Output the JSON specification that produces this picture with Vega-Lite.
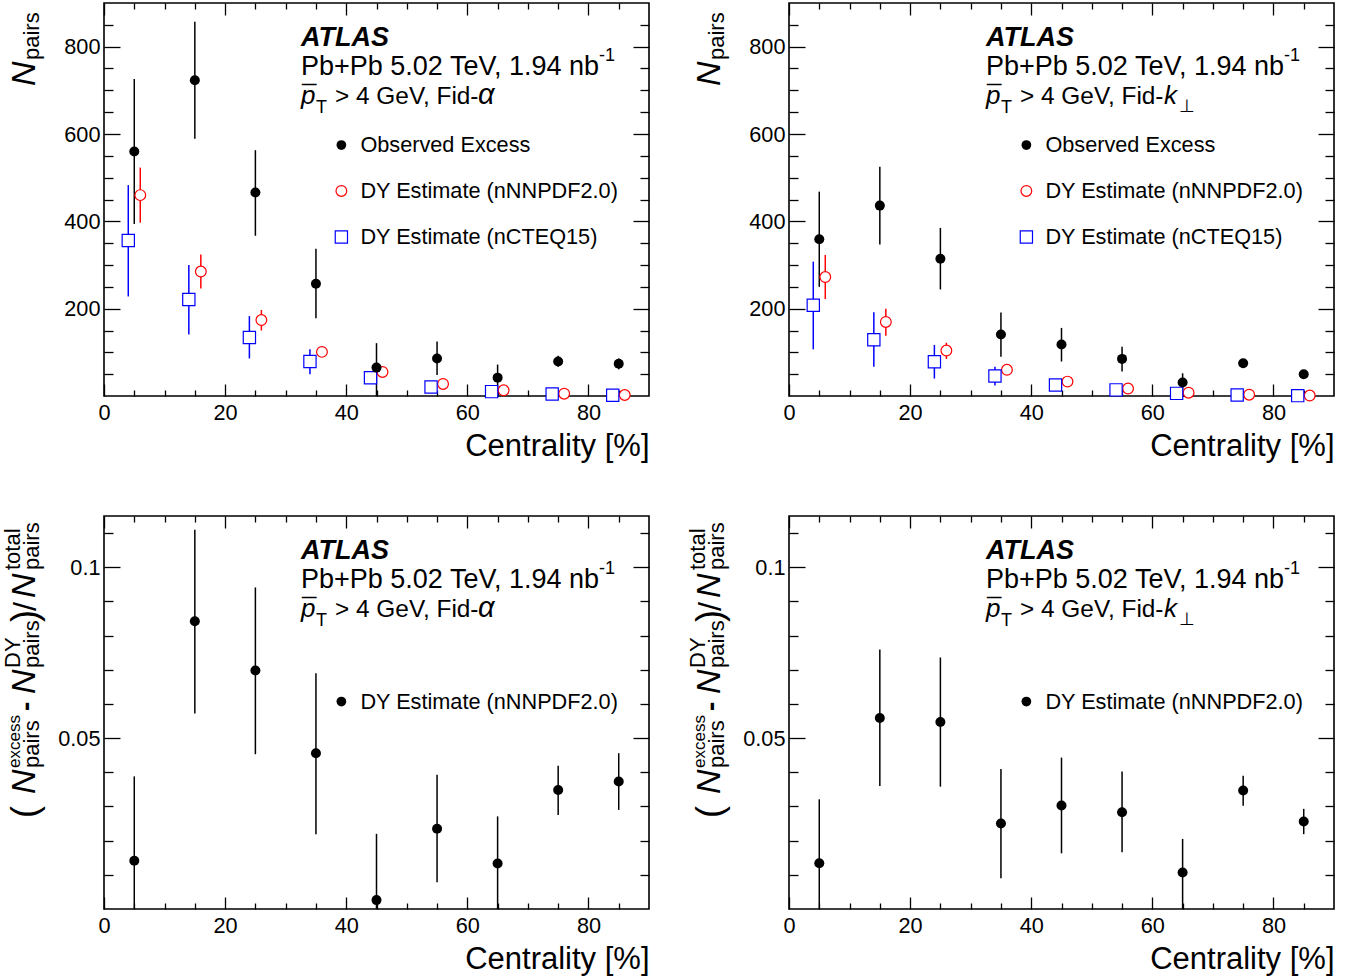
{
"$schema":"https://vega.github.io/schema/vega-lite/v6.json",
"autosize":{"type":"pad"},
"padding":{"left":1,"top":1,"right":0,"bottom":0},
"background":"#ffffff",
"datasets":{
"ta":[
{"c":5,"s":"obs","n":560,"lo":394,"hi":726},{"c":15,"s":"obs","n":723,"lo":589,"hi":857},{"c":25,"s":"obs","n":466,"lo":367,"hi":563},{"c":35,"s":"obs","n":257,"lo":178,"hi":337},{"c":45,"s":"obs","n":65,"lo":0,"hi":121},{"c":55,"s":"obs","n":86,"lo":48,"hi":125},{"c":65,"s":"obs","n":42,"lo":13,"hi":72},{"c":75,"s":"obs","n":79,"lo":67,"hi":92},{"c":85,"s":"obs","n":74,"lo":61,"hi":86},
{"c":5,"s":"nn","n":460,"lo":397,"hi":523},{"c":15,"s":"nn","n":285,"lo":246,"hi":324},{"c":25,"s":"nn","n":174,"lo":150,"hi":197},{"c":35,"s":"nn","n":101,"lo":95,"hi":107},{"c":45,"s":"nn","n":55,"lo":50,"hi":60},{"c":55,"s":"nn","n":27.5,"lo":25,"hi":30},{"c":65,"s":"nn","n":13,"lo":11.5,"hi":14.5},{"c":75,"s":"nn","n":5.3,"lo":4.7,"hi":5.9},{"c":85,"s":"nn","n":2.3,"lo":2,"hi":2.6},
{"c":5,"s":"nc","n":356,"lo":228,"hi":483},{"c":15,"s":"nc","n":221,"lo":141,"hi":300},{"c":25,"s":"nc","n":134,"lo":86,"hi":183},{"c":35,"s":"nc","n":79,"lo":50,"hi":107},{"c":45,"s":"nc","n":42,"lo":32,"hi":52},{"c":55,"s":"nc","n":20.6,"lo":18,"hi":23},{"c":65,"s":"nc","n":10,"lo":9,"hi":11},{"c":75,"s":"nc","n":4.6,"lo":4,"hi":5.2},{"c":85,"s":"nc","n":1.5,"lo":1.3,"hi":1.7}
],
"tk":[
{"c":5,"s":"obs","n":359,"lo":250,"hi":468},{"c":15,"s":"obs","n":436,"lo":347,"hi":525},{"c":25,"s":"obs","n":314.5,"lo":244,"hi":385},{"c":35,"s":"obs","n":141,"lo":90,"hi":191},{"c":45,"s":"obs","n":118,"lo":79,"hi":156},{"c":55,"s":"obs","n":85,"lo":56,"hi":113},{"c":65,"s":"obs","n":31,"lo":14,"hi":52},{"c":75,"s":"obs","n":75,"lo":71,"hi":79},{"c":85,"s":"obs","n":50,"lo":46,"hi":54},
{"c":5,"s":"nn","n":272.5,"lo":222,"hi":323},{"c":15,"s":"nn","n":169.5,"lo":138,"hi":200},{"c":25,"s":"nn","n":104,"lo":85,"hi":122},{"c":35,"s":"nn","n":60,"lo":56,"hi":64},{"c":45,"s":"nn","n":33,"lo":31,"hi":35},{"c":55,"s":"nn","n":17,"lo":16,"hi":18},{"c":65,"s":"nn","n":7.6,"lo":7,"hi":8.2},{"c":75,"s":"nn","n":3,"lo":2.8,"hi":3.2},{"c":85,"s":"nn","n":1,"lo":0.9,"hi":1.1},
{"c":5,"s":"nc","n":207.6,"lo":107,"hi":307.6},{"c":15,"s":"nc","n":129,"lo":67,"hi":191.6},{"c":25,"s":"nc","n":78.6,"lo":40,"hi":117},{"c":35,"s":"nc","n":46,"lo":24,"hi":67},{"c":45,"s":"nc","n":25,"lo":22,"hi":28},{"c":55,"s":"nc","n":14,"lo":13,"hi":15},{"c":65,"s":"nc","n":6,"lo":5.5,"hi":6.5},{"c":75,"s":"nc","n":2.3,"lo":2,"hi":2.6},{"c":85,"s":"nc","n":0.8,"lo":0.7,"hi":0.9}
],
"ba":[
{"c":5,"n":0.0141,"lo":0,"hi":0.0388},{"c":15,"n":0.0842,"lo":0.0572,"hi":0.111},{"c":25,"n":0.0698,"lo":0.0453,"hi":0.0941},{"c":35,"n":0.0456,"lo":0.0219,"hi":0.069},{"c":45,"n":0.0026,"lo":0,"hi":0.022},{"c":55,"n":0.0235,"lo":0.0078,"hi":0.0393},{"c":65,"n":0.0133,"lo":0,"hi":0.0271},{"c":75,"n":0.0348,"lo":0.0275,"hi":0.0419},{"c":85,"n":0.0373,"lo":0.029,"hi":0.0456}
],
"bk":[
{"c":5,"n":0.0134,"lo":0,"hi":0.0321},{"c":15,"n":0.0559,"lo":0.036,"hi":0.0759},{"c":25,"n":0.0547,"lo":0.0358,"hi":0.0736},{"c":35,"n":0.025,"lo":0.009,"hi":0.041},{"c":45,"n":0.0303,"lo":0.0163,"hi":0.0443},{"c":55,"n":0.0283,"lo":0.0166,"hi":0.0402},{"c":65,"n":0.0107,"lo":0,"hi":0.0205},{"c":75,"n":0.0347,"lo":0.0302,"hi":0.039},{"c":85,"n":0.0256,"lo":0.0219,"hi":0.0293}
]
},
"columns":2,
"spacing":{"row":120,"column":140},
"bounds":"flush",
"concat":[
{
"width":545,"height":393,
"data":{"values":[{}]},
"resolve":{"axis":{"x":"independent","y":"independent"}},
"layer":[
{"data":{"name":"ta"},"transform":[{"filter":"datum.s == 'obs'"}],"mark":{"type":"rule","color":"#000","strokeWidth":1.5},"encoding":{"x":{"field":"c","type":"quantitative","scale":{"domain":[0,90],"nice":false,"zero":false},"axis":{"orient":"bottom","values":[0,20,40,60,80],"format":"d","ticks":false,"labelPadding":6,"title":"Centrality [%]","titleFontSize":31,"titleAnchor":"end","titlePadding":8}},"y":{"field":"lo","type":"quantitative","scale":{"domain":[0,900],"nice":false,"zero":false},"axis":{"orient":"left","values":[200,400,600,800],"format":"d","ticks":false,"labelPadding":4,"title":null}},"y2":{"field":"hi"}}},
{"data":{"name":"ta"},"transform":[{"filter":"datum.s == 'nn'"}],"mark":{"type":"rule","color":"#ff0000","strokeWidth":1.5,"xOffset":6},"encoding":{"x":{"field":"c","type":"quantitative","scale":{"domain":[0,90],"nice":false,"zero":false},"axis":{"orient":"bottom","values":[0,20,40,60,80],"labels":false,"title":null,"tickSize":-12}},"y":{"field":"lo","type":"quantitative","scale":{"domain":[0,900],"nice":false,"zero":false},"axis":{"orient":"left","values":[200,400,600,800],"labels":false,"title":null,"tickSize":-16}},"y2":{"field":"hi"}}},
{"data":{"name":"ta"},"transform":[{"filter":"datum.s == 'nc'"}],"mark":{"type":"rule","color":"#0000ff","strokeWidth":1.5,"xOffset":-6},"encoding":{"x":{"field":"c","type":"quantitative","scale":{"domain":[0,90],"nice":false,"zero":false},"axis":{"orient":"bottom","values":[5,10,15,25,30,35,45,50,55,65,70,75,85],"labels":false,"title":null,"tickSize":-6}},"y":{"field":"lo","type":"quantitative","scale":{"domain":[0,900],"nice":false,"zero":false},"axis":{"orient":"left","values":[50,100,150,250,300,350,450,500,550,650,700,750,850],"labels":false,"title":null,"tickSize":-9}},"y2":{"field":"hi"}}},
{"data":{"name":"ta"},"transform":[{"filter":"datum.s == 'nn'"}],"mark":{"type":"point","shape":"circle","filled":false,"fill":"#ffffff","fillOpacity":1,"stroke":"#ff0000","strokeWidth":1.2,"size":115,"opacity":1,"xOffset":6},"encoding":{"x":{"field":"c","type":"quantitative","scale":{"domain":[0,90],"nice":false,"zero":false},"axis":{"orient":"top","values":[0,20,40,60,80],"labels":false,"title":null,"tickSize":-12}},"y":{"field":"n","type":"quantitative","scale":{"domain":[0,900],"nice":false,"zero":false},"axis":{"orient":"right","values":[200,400,600,800],"labels":false,"title":null,"tickSize":-16}}}},
{"data":{"name":"ta"},"transform":[{"filter":"datum.s == 'nc'"}],"mark":{"type":"point","shape":"square","filled":false,"fill":"#ffffff","fillOpacity":1,"stroke":"#0000ff","strokeWidth":1.2,"size":150,"opacity":1,"xOffset":-6},"encoding":{"x":{"field":"c","type":"quantitative","scale":{"domain":[0,90],"nice":false,"zero":false},"axis":{"orient":"top","values":[5,10,15,25,30,35,45,50,55,65,70,75,85],"labels":false,"title":null,"tickSize":-6}},"y":{"field":"n","type":"quantitative","scale":{"domain":[0,900],"nice":false,"zero":false},"axis":{"orient":"right","values":[50,100,150,250,300,350,450,500,550,650,700,750,850],"labels":false,"title":null,"tickSize":-9}}}},
{"data":{"name":"ta"},"transform":[{"filter":"datum.s == 'obs'"}],"mark":{"type":"point","shape":"circle","filled":true,"color":"#000","size":100,"opacity":1},"encoding":{"x":{"field":"c","type":"quantitative","scale":{"domain":[0,90],"nice":false,"zero":false},"axis":null},"y":{"field":"n","type":"quantitative","scale":{"domain":[0,900],"nice":false,"zero":false},"axis":null}}},
{"mark":{"type":"point","shape":"circle","filled":true,"color":"#000","size":95,"opacity":1},"encoding":{"x":{"datum":39.2,"type":"quantitative","axis":null},"y":{"datum":574.8,"type":"quantitative","axis":null}}},
{"mark":{"type":"point","shape":"circle","filled":false,"fill":"#ffffff","fillOpacity":1,"stroke":"#ff0000","strokeWidth":1.2,"size":115,"opacity":1},"encoding":{"x":{"datum":39.2,"type":"quantitative","axis":null},"y":{"datum":469.5,"type":"quantitative","axis":null}}},
{"mark":{"type":"point","shape":"square","filled":false,"fill":"#ffffff","fillOpacity":1,"stroke":"#0000ff","strokeWidth":1.2,"size":150,"opacity":1},"encoding":{"x":{"datum":39.2,"type":"quantitative","axis":null},"y":{"datum":364.1,"type":"quantitative","axis":null}}},
{"mark":{"type":"text","text":"Observed Excess","fontSize":21.7,"align":"left","baseline":"middle","dx":19},"encoding":{"x":{"datum":39.2,"type":"quantitative","axis":null},"y":{"datum":574.8,"type":"quantitative","axis":null}}},
{"mark":{"type":"text","text":"DY Estimate (nNNPDF2.0)","fontSize":21.7,"align":"left","baseline":"middle","dx":19},"encoding":{"x":{"datum":39.2,"type":"quantitative","axis":null},"y":{"datum":469.5,"type":"quantitative","axis":null}}},
{"mark":{"type":"text","text":"DY Estimate (nCTEQ15)","fontSize":21.7,"align":"left","baseline":"middle","dx":19},"encoding":{"x":{"datum":39.2,"type":"quantitative","axis":null},"y":{"datum":364.1,"type":"quantitative","axis":null}}},
{"mark":{"type":"text","text":"ATLAS","fontSize":27,"fontWeight":"bold","fontStyle":"italic","align":"left","baseline":"alphabetic","dx":197,"dy":43},"encoding":{"x":{"datum":0,"type":"quantitative","axis":null},"y":{"datum":900,"type":"quantitative","axis":null}}},
{"mark":{"type":"text","text":"Pb+Pb 5.02 TeV, 1.94 nb","fontSize":27,"align":"left","baseline":"alphabetic","dx":197,"dy":72},"encoding":{"x":{"datum":0,"type":"quantitative","axis":null},"y":{"datum":900,"type":"quantitative","axis":null}}},
{"mark":{"type":"text","text":"-1","fontSize":18,"align":"left","baseline":"alphabetic","dx":495,"dy":58},"encoding":{"x":{"datum":0,"type":"quantitative","axis":null},"y":{"datum":900,"type":"quantitative","axis":null}}},
{"mark":{"type":"text","text":"p","fontSize":26,"fontStyle":"italic","align":"left","baseline":"alphabetic","dx":197,"dy":101},"encoding":{"x":{"datum":0,"type":"quantitative","axis":null},"y":{"datum":900,"type":"quantitative","axis":null}}},
{"mark":{"type":"text","text":"¯","fontSize":26,"fontStyle":"italic","align":"left","baseline":"alphabetic","dx":198,"dy":101},"encoding":{"x":{"datum":0,"type":"quantitative","axis":null},"y":{"datum":900,"type":"quantitative","axis":null}}},
{"mark":{"type":"text","text":"T","fontSize":18,"align":"left","baseline":"alphabetic","dx":212,"dy":110},"encoding":{"x":{"datum":0,"type":"quantitative","axis":null},"y":{"datum":900,"type":"quantitative","axis":null}}},
{"mark":{"type":"text","text":"> 4 GeV, Fid-","fontSize":24.4,"align":"left","baseline":"alphabetic","dx":231,"dy":101},"encoding":{"x":{"datum":0,"type":"quantitative","axis":null},"y":{"datum":900,"type":"quantitative","axis":null}}},
{"mark":{"type":"text","text":"α","fontSize":29,"fontStyle":"italic","align":"left","baseline":"alphabetic","dx":374,"dy":101},"encoding":{"x":{"datum":0,"type":"quantitative","axis":null},"y":{"datum":900,"type":"quantitative","axis":null}}},
{"mark":{"type":"text","text":"N","fontSize":34,"fontStyle":"italic","angle":270,"align":"left","baseline":"alphabetic","dx":310,"dy":-69},"encoding":{"x":{"datum":0,"type":"quantitative","axis":null},"y":{"datum":0,"type":"quantitative","axis":null}}},
{"mark":{"type":"text","text":"pairs","fontSize":22,"angle":270,"align":"left","baseline":"alphabetic","dx":336,"dy":-65},"encoding":{"x":{"datum":0,"type":"quantitative","axis":null},"y":{"datum":0,"type":"quantitative","axis":null}}}
]
},
{
"width":545,"height":393,
"data":{"values":[{}]},
"resolve":{"axis":{"x":"independent","y":"independent"}},
"layer":[
{"data":{"name":"tk"},"transform":[{"filter":"datum.s == 'obs'"}],"mark":{"type":"rule","color":"#000","strokeWidth":1.5},"encoding":{"x":{"field":"c","type":"quantitative","scale":{"domain":[0,90],"nice":false,"zero":false},"axis":{"orient":"bottom","values":[0,20,40,60,80],"format":"d","ticks":false,"labelPadding":6,"title":"Centrality [%]","titleFontSize":31,"titleAnchor":"end","titlePadding":8}},"y":{"field":"lo","type":"quantitative","scale":{"domain":[0,900],"nice":false,"zero":false},"axis":{"orient":"left","values":[200,400,600,800],"format":"d","ticks":false,"labelPadding":4,"title":null}},"y2":{"field":"hi"}}},
{"data":{"name":"tk"},"transform":[{"filter":"datum.s == 'nn'"}],"mark":{"type":"rule","color":"#ff0000","strokeWidth":1.5,"xOffset":6},"encoding":{"x":{"field":"c","type":"quantitative","scale":{"domain":[0,90],"nice":false,"zero":false},"axis":{"orient":"bottom","values":[0,20,40,60,80],"labels":false,"title":null,"tickSize":-12}},"y":{"field":"lo","type":"quantitative","scale":{"domain":[0,900],"nice":false,"zero":false},"axis":{"orient":"left","values":[200,400,600,800],"labels":false,"title":null,"tickSize":-16}},"y2":{"field":"hi"}}},
{"data":{"name":"tk"},"transform":[{"filter":"datum.s == 'nc'"}],"mark":{"type":"rule","color":"#0000ff","strokeWidth":1.5,"xOffset":-6},"encoding":{"x":{"field":"c","type":"quantitative","scale":{"domain":[0,90],"nice":false,"zero":false},"axis":{"orient":"bottom","values":[5,10,15,25,30,35,45,50,55,65,70,75,85],"labels":false,"title":null,"tickSize":-6}},"y":{"field":"lo","type":"quantitative","scale":{"domain":[0,900],"nice":false,"zero":false},"axis":{"orient":"left","values":[50,100,150,250,300,350,450,500,550,650,700,750,850],"labels":false,"title":null,"tickSize":-9}},"y2":{"field":"hi"}}},
{"data":{"name":"tk"},"transform":[{"filter":"datum.s == 'nn'"}],"mark":{"type":"point","shape":"circle","filled":false,"fill":"#ffffff","fillOpacity":1,"stroke":"#ff0000","strokeWidth":1.2,"size":115,"opacity":1,"xOffset":6},"encoding":{"x":{"field":"c","type":"quantitative","scale":{"domain":[0,90],"nice":false,"zero":false},"axis":{"orient":"top","values":[0,20,40,60,80],"labels":false,"title":null,"tickSize":-12}},"y":{"field":"n","type":"quantitative","scale":{"domain":[0,900],"nice":false,"zero":false},"axis":{"orient":"right","values":[200,400,600,800],"labels":false,"title":null,"tickSize":-16}}}},
{"data":{"name":"tk"},"transform":[{"filter":"datum.s == 'nc'"}],"mark":{"type":"point","shape":"square","filled":false,"fill":"#ffffff","fillOpacity":1,"stroke":"#0000ff","strokeWidth":1.2,"size":150,"opacity":1,"xOffset":-6},"encoding":{"x":{"field":"c","type":"quantitative","scale":{"domain":[0,90],"nice":false,"zero":false},"axis":{"orient":"top","values":[5,10,15,25,30,35,45,50,55,65,70,75,85],"labels":false,"title":null,"tickSize":-6}},"y":{"field":"n","type":"quantitative","scale":{"domain":[0,900],"nice":false,"zero":false},"axis":{"orient":"right","values":[50,100,150,250,300,350,450,500,550,650,700,750,850],"labels":false,"title":null,"tickSize":-9}}}},
{"data":{"name":"tk"},"transform":[{"filter":"datum.s == 'obs'"}],"mark":{"type":"point","shape":"circle","filled":true,"color":"#000","size":100,"opacity":1},"encoding":{"x":{"field":"c","type":"quantitative","scale":{"domain":[0,90],"nice":false,"zero":false},"axis":null},"y":{"field":"n","type":"quantitative","scale":{"domain":[0,900],"nice":false,"zero":false},"axis":null}}},
{"mark":{"type":"point","shape":"circle","filled":true,"color":"#000","size":95,"opacity":1},"encoding":{"x":{"datum":39.2,"type":"quantitative","axis":null},"y":{"datum":574.8,"type":"quantitative","axis":null}}},
{"mark":{"type":"point","shape":"circle","filled":false,"fill":"#ffffff","fillOpacity":1,"stroke":"#ff0000","strokeWidth":1.2,"size":115,"opacity":1},"encoding":{"x":{"datum":39.2,"type":"quantitative","axis":null},"y":{"datum":469.5,"type":"quantitative","axis":null}}},
{"mark":{"type":"point","shape":"square","filled":false,"fill":"#ffffff","fillOpacity":1,"stroke":"#0000ff","strokeWidth":1.2,"size":150,"opacity":1},"encoding":{"x":{"datum":39.2,"type":"quantitative","axis":null},"y":{"datum":364.1,"type":"quantitative","axis":null}}},
{"mark":{"type":"text","text":"Observed Excess","fontSize":21.7,"align":"left","baseline":"middle","dx":19},"encoding":{"x":{"datum":39.2,"type":"quantitative","axis":null},"y":{"datum":574.8,"type":"quantitative","axis":null}}},
{"mark":{"type":"text","text":"DY Estimate (nNNPDF2.0)","fontSize":21.7,"align":"left","baseline":"middle","dx":19},"encoding":{"x":{"datum":39.2,"type":"quantitative","axis":null},"y":{"datum":469.5,"type":"quantitative","axis":null}}},
{"mark":{"type":"text","text":"DY Estimate (nCTEQ15)","fontSize":21.7,"align":"left","baseline":"middle","dx":19},"encoding":{"x":{"datum":39.2,"type":"quantitative","axis":null},"y":{"datum":364.1,"type":"quantitative","axis":null}}},
{"mark":{"type":"text","text":"ATLAS","fontSize":27,"fontWeight":"bold","fontStyle":"italic","align":"left","baseline":"alphabetic","dx":197,"dy":43},"encoding":{"x":{"datum":0,"type":"quantitative","axis":null},"y":{"datum":900,"type":"quantitative","axis":null}}},
{"mark":{"type":"text","text":"Pb+Pb 5.02 TeV, 1.94 nb","fontSize":27,"align":"left","baseline":"alphabetic","dx":197,"dy":72},"encoding":{"x":{"datum":0,"type":"quantitative","axis":null},"y":{"datum":900,"type":"quantitative","axis":null}}},
{"mark":{"type":"text","text":"-1","fontSize":18,"align":"left","baseline":"alphabetic","dx":495,"dy":58},"encoding":{"x":{"datum":0,"type":"quantitative","axis":null},"y":{"datum":900,"type":"quantitative","axis":null}}},
{"mark":{"type":"text","text":"p","fontSize":26,"fontStyle":"italic","align":"left","baseline":"alphabetic","dx":197,"dy":101},"encoding":{"x":{"datum":0,"type":"quantitative","axis":null},"y":{"datum":900,"type":"quantitative","axis":null}}},
{"mark":{"type":"text","text":"¯","fontSize":26,"fontStyle":"italic","align":"left","baseline":"alphabetic","dx":198,"dy":101},"encoding":{"x":{"datum":0,"type":"quantitative","axis":null},"y":{"datum":900,"type":"quantitative","axis":null}}},
{"mark":{"type":"text","text":"T","fontSize":18,"align":"left","baseline":"alphabetic","dx":212,"dy":110},"encoding":{"x":{"datum":0,"type":"quantitative","axis":null},"y":{"datum":900,"type":"quantitative","axis":null}}},
{"mark":{"type":"text","text":"> 4 GeV, Fid-","fontSize":24.4,"align":"left","baseline":"alphabetic","dx":231,"dy":101},"encoding":{"x":{"datum":0,"type":"quantitative","axis":null},"y":{"datum":900,"type":"quantitative","axis":null}}},
{"mark":{"type":"text","text":"k","fontSize":26,"fontStyle":"italic","align":"left","baseline":"alphabetic","dx":375,"dy":101},"encoding":{"x":{"datum":0,"type":"quantitative","axis":null},"y":{"datum":900,"type":"quantitative","axis":null}}},
{"mark":{"type":"text","text":"⊥","fontSize":18,"align":"left","baseline":"alphabetic","dx":390,"dy":109},"encoding":{"x":{"datum":0,"type":"quantitative","axis":null},"y":{"datum":900,"type":"quantitative","axis":null}}},
{"mark":{"type":"text","text":"N","fontSize":34,"fontStyle":"italic","angle":270,"align":"left","baseline":"alphabetic","dx":310,"dy":-69},"encoding":{"x":{"datum":0,"type":"quantitative","axis":null},"y":{"datum":0,"type":"quantitative","axis":null}}},
{"mark":{"type":"text","text":"pairs","fontSize":22,"angle":270,"align":"left","baseline":"alphabetic","dx":336,"dy":-65},"encoding":{"x":{"datum":0,"type":"quantitative","axis":null},"y":{"datum":0,"type":"quantitative","axis":null}}}
]
},
{
"width":545,"height":393,
"data":{"values":[{}]},
"resolve":{"axis":{"x":"independent","y":"independent"}},
"layer":[
{"data":{"name":"ba"},"mark":{"type":"rule","color":"#000","strokeWidth":1.5},"encoding":{"x":{"field":"c","type":"quantitative","scale":{"domain":[0,90],"nice":false,"zero":false},"axis":{"orient":"bottom","values":[0,20,40,60,80],"format":"d","ticks":false,"labelPadding":6,"title":"Centrality [%]","titleFontSize":31,"titleAnchor":"end","titlePadding":8}},"y":{"field":"lo","type":"quantitative","scale":{"domain":[0,0.115],"nice":false,"zero":false},"axis":{"orient":"left","values":[0.05,0.1],"format":".2~f","ticks":false,"labelPadding":4,"title":null}},"y2":{"field":"hi"}}},
{"data":{"name":"ba"},"mark":{"type":"point","shape":"circle","filled":true,"color":"#000","size":100,"opacity":1},"encoding":{"x":{"field":"c","type":"quantitative","scale":{"domain":[0,90],"nice":false,"zero":false},"axis":{"orient":"bottom","values":[0,20,40,60,80],"labels":false,"title":null,"tickSize":-12}},"y":{"field":"n","type":"quantitative","scale":{"domain":[0,0.115],"nice":false,"zero":false},"axis":{"orient":"left","values":[0.05,0.1],"labels":false,"title":null,"tickSize":-16}}}},
{"mark":{"type":"point","shape":"circle","filled":true,"color":"#000","size":95,"opacity":1},"encoding":{"x":{"datum":39.2,"type":"quantitative","scale":{"domain":[0,90],"nice":false,"zero":false},"axis":{"orient":"bottom","values":[5,10,15,25,30,35,45,50,55,65,70,75,85],"labels":false,"title":null,"tickSize":-6}},"y":{"datum":0.0607,"type":"quantitative","scale":{"domain":[0,0.115],"nice":false,"zero":false},"axis":{"orient":"left","values":[0.01,0.02,0.03,0.04,0.06,0.07,0.08,0.09,0.11],"labels":false,"title":null,"tickSize":-9}}}},
{"mark":{"type":"text","text":"DY Estimate (nNNPDF2.0)","fontSize":21.7,"align":"left","baseline":"middle","dx":19},"encoding":{"x":{"datum":39.2,"type":"quantitative","axis":{"orient":"top","values":[0,20,40,60,80],"labels":false,"title":null,"tickSize":-12}},"y":{"datum":0.0607,"type":"quantitative","axis":{"orient":"right","values":[0.05,0.1],"labels":false,"title":null,"tickSize":-16}}}},
{"mark":{"type":"text","text":"ATLAS","fontSize":27,"fontWeight":"bold","fontStyle":"italic","align":"left","baseline":"alphabetic","dx":197,"dy":43},"encoding":{"x":{"datum":0,"type":"quantitative","axis":{"orient":"top","values":[5,10,15,25,30,35,45,50,55,65,70,75,85],"labels":false,"title":null,"tickSize":-6}},"y":{"datum":0.115,"type":"quantitative","axis":{"orient":"right","values":[0.01,0.02,0.03,0.04,0.06,0.07,0.08,0.09,0.11],"labels":false,"title":null,"tickSize":-9}}}},
{"mark":{"type":"text","text":"Pb+Pb 5.02 TeV, 1.94 nb","fontSize":27,"align":"left","baseline":"alphabetic","dx":197,"dy":72},"encoding":{"x":{"datum":0,"type":"quantitative","axis":null},"y":{"datum":0.115,"type":"quantitative","axis":null}}},
{"mark":{"type":"text","text":"-1","fontSize":18,"align":"left","baseline":"alphabetic","dx":495,"dy":58},"encoding":{"x":{"datum":0,"type":"quantitative","axis":null},"y":{"datum":0.115,"type":"quantitative","axis":null}}},
{"mark":{"type":"text","text":"p","fontSize":26,"fontStyle":"italic","align":"left","baseline":"alphabetic","dx":197,"dy":101},"encoding":{"x":{"datum":0,"type":"quantitative","axis":null},"y":{"datum":0.115,"type":"quantitative","axis":null}}},
{"mark":{"type":"text","text":"¯","fontSize":26,"fontStyle":"italic","align":"left","baseline":"alphabetic","dx":198,"dy":101},"encoding":{"x":{"datum":0,"type":"quantitative","axis":null},"y":{"datum":0.115,"type":"quantitative","axis":null}}},
{"mark":{"type":"text","text":"T","fontSize":18,"align":"left","baseline":"alphabetic","dx":212,"dy":110},"encoding":{"x":{"datum":0,"type":"quantitative","axis":null},"y":{"datum":0.115,"type":"quantitative","axis":null}}},
{"mark":{"type":"text","text":"> 4 GeV, Fid-","fontSize":24.4,"align":"left","baseline":"alphabetic","dx":231,"dy":101},"encoding":{"x":{"datum":0,"type":"quantitative","axis":null},"y":{"datum":0.115,"type":"quantitative","axis":null}}},
{"mark":{"type":"text","text":"α","fontSize":29,"fontStyle":"italic","align":"left","baseline":"alphabetic","dx":374,"dy":101},"encoding":{"x":{"datum":0,"type":"quantitative","axis":null},"y":{"datum":0.115,"type":"quantitative","axis":null}}},
{"mark":{"type":"text","text":"(","fontSize":36,"angle":270,"align":"left","baseline":"alphabetic","dx":91,"dy":-67},"encoding":{"x":{"datum":0,"type":"quantitative","axis":null},"y":{"datum":0,"type":"quantitative","axis":null}}},
{"mark":{"type":"text","text":"N","fontSize":34,"fontStyle":"italic","angle":270,"align":"left","baseline":"alphabetic","dx":115,"dy":-69},"encoding":{"x":{"datum":0,"type":"quantitative","axis":null},"y":{"datum":0,"type":"quantitative","axis":null}}},
{"mark":{"type":"text","text":"excess","fontSize":17,"angle":270,"align":"left","baseline":"alphabetic","dx":141,"dy":-84},"encoding":{"x":{"datum":0,"type":"quantitative","axis":null},"y":{"datum":0,"type":"quantitative","axis":null}}},
{"mark":{"type":"text","text":"pairs","fontSize":22,"angle":270,"align":"left","baseline":"alphabetic","dx":141,"dy":-65},"encoding":{"x":{"datum":0,"type":"quantitative","axis":null},"y":{"datum":0,"type":"quantitative","axis":null}}},
{"mark":{"type":"text","text":"-","fontSize":28,"fontWeight":"bold","angle":270,"align":"left","baseline":"alphabetic","dx":198,"dy":-69},"encoding":{"x":{"datum":0,"type":"quantitative","axis":null},"y":{"datum":0,"type":"quantitative","axis":null}}},
{"mark":{"type":"text","text":"N","fontSize":34,"fontStyle":"italic","angle":270,"align":"left","baseline":"alphabetic","dx":215,"dy":-69},"encoding":{"x":{"datum":0,"type":"quantitative","axis":null},"y":{"datum":0,"type":"quantitative","axis":null}}},
{"mark":{"type":"text","text":"DY","fontSize":22,"angle":270,"align":"left","baseline":"alphabetic","dx":241,"dy":-84},"encoding":{"x":{"datum":0,"type":"quantitative","axis":null},"y":{"datum":0,"type":"quantitative","axis":null}}},
{"mark":{"type":"text","text":"pairs","fontSize":22,"angle":270,"align":"left","baseline":"alphabetic","dx":241,"dy":-65},"encoding":{"x":{"datum":0,"type":"quantitative","axis":null},"y":{"datum":0,"type":"quantitative","axis":null}}},
{"mark":{"type":"text","text":")","fontSize":36,"angle":270,"align":"left","baseline":"alphabetic","dx":287,"dy":-67},"encoding":{"x":{"datum":0,"type":"quantitative","axis":null},"y":{"datum":0,"type":"quantitative","axis":null}}},
{"mark":{"type":"text","text":"/","fontSize":32,"angle":270,"align":"left","baseline":"alphabetic","dx":298,"dy":-68},"encoding":{"x":{"datum":0,"type":"quantitative","axis":null},"y":{"datum":0,"type":"quantitative","axis":null}}},
{"mark":{"type":"text","text":"N","fontSize":34,"fontStyle":"italic","angle":270,"align":"left","baseline":"alphabetic","dx":311,"dy":-69},"encoding":{"x":{"datum":0,"type":"quantitative","axis":null},"y":{"datum":0,"type":"quantitative","axis":null}}},
{"mark":{"type":"text","text":"total","fontSize":22,"angle":270,"align":"left","baseline":"alphabetic","dx":339,"dy":-84},"encoding":{"x":{"datum":0,"type":"quantitative","axis":null},"y":{"datum":0,"type":"quantitative","axis":null}}},
{"mark":{"type":"text","text":"pairs","fontSize":22,"angle":270,"align":"left","baseline":"alphabetic","dx":339,"dy":-65},"encoding":{"x":{"datum":0,"type":"quantitative","axis":null},"y":{"datum":0,"type":"quantitative","axis":null}}}
]
},
{
"width":545,"height":393,
"data":{"values":[{}]},
"resolve":{"axis":{"x":"independent","y":"independent"}},
"layer":[
{"data":{"name":"bk"},"mark":{"type":"rule","color":"#000","strokeWidth":1.5},"encoding":{"x":{"field":"c","type":"quantitative","scale":{"domain":[0,90],"nice":false,"zero":false},"axis":{"orient":"bottom","values":[0,20,40,60,80],"format":"d","ticks":false,"labelPadding":6,"title":"Centrality [%]","titleFontSize":31,"titleAnchor":"end","titlePadding":8}},"y":{"field":"lo","type":"quantitative","scale":{"domain":[0,0.115],"nice":false,"zero":false},"axis":{"orient":"left","values":[0.05,0.1],"format":".2~f","ticks":false,"labelPadding":4,"title":null}},"y2":{"field":"hi"}}},
{"data":{"name":"bk"},"mark":{"type":"point","shape":"circle","filled":true,"color":"#000","size":100,"opacity":1},"encoding":{"x":{"field":"c","type":"quantitative","scale":{"domain":[0,90],"nice":false,"zero":false},"axis":{"orient":"bottom","values":[0,20,40,60,80],"labels":false,"title":null,"tickSize":-12}},"y":{"field":"n","type":"quantitative","scale":{"domain":[0,0.115],"nice":false,"zero":false},"axis":{"orient":"left","values":[0.05,0.1],"labels":false,"title":null,"tickSize":-16}}}},
{"mark":{"type":"point","shape":"circle","filled":true,"color":"#000","size":95,"opacity":1},"encoding":{"x":{"datum":39.2,"type":"quantitative","scale":{"domain":[0,90],"nice":false,"zero":false},"axis":{"orient":"bottom","values":[5,10,15,25,30,35,45,50,55,65,70,75,85],"labels":false,"title":null,"tickSize":-6}},"y":{"datum":0.0607,"type":"quantitative","scale":{"domain":[0,0.115],"nice":false,"zero":false},"axis":{"orient":"left","values":[0.01,0.02,0.03,0.04,0.06,0.07,0.08,0.09,0.11],"labels":false,"title":null,"tickSize":-9}}}},
{"mark":{"type":"text","text":"DY Estimate (nNNPDF2.0)","fontSize":21.7,"align":"left","baseline":"middle","dx":19},"encoding":{"x":{"datum":39.2,"type":"quantitative","axis":{"orient":"top","values":[0,20,40,60,80],"labels":false,"title":null,"tickSize":-12}},"y":{"datum":0.0607,"type":"quantitative","axis":{"orient":"right","values":[0.05,0.1],"labels":false,"title":null,"tickSize":-16}}}},
{"mark":{"type":"text","text":"ATLAS","fontSize":27,"fontWeight":"bold","fontStyle":"italic","align":"left","baseline":"alphabetic","dx":197,"dy":43},"encoding":{"x":{"datum":0,"type":"quantitative","axis":{"orient":"top","values":[5,10,15,25,30,35,45,50,55,65,70,75,85],"labels":false,"title":null,"tickSize":-6}},"y":{"datum":0.115,"type":"quantitative","axis":{"orient":"right","values":[0.01,0.02,0.03,0.04,0.06,0.07,0.08,0.09,0.11],"labels":false,"title":null,"tickSize":-9}}}},
{"mark":{"type":"text","text":"Pb+Pb 5.02 TeV, 1.94 nb","fontSize":27,"align":"left","baseline":"alphabetic","dx":197,"dy":72},"encoding":{"x":{"datum":0,"type":"quantitative","axis":null},"y":{"datum":0.115,"type":"quantitative","axis":null}}},
{"mark":{"type":"text","text":"-1","fontSize":18,"align":"left","baseline":"alphabetic","dx":495,"dy":58},"encoding":{"x":{"datum":0,"type":"quantitative","axis":null},"y":{"datum":0.115,"type":"quantitative","axis":null}}},
{"mark":{"type":"text","text":"p","fontSize":26,"fontStyle":"italic","align":"left","baseline":"alphabetic","dx":197,"dy":101},"encoding":{"x":{"datum":0,"type":"quantitative","axis":null},"y":{"datum":0.115,"type":"quantitative","axis":null}}},
{"mark":{"type":"text","text":"¯","fontSize":26,"fontStyle":"italic","align":"left","baseline":"alphabetic","dx":198,"dy":101},"encoding":{"x":{"datum":0,"type":"quantitative","axis":null},"y":{"datum":0.115,"type":"quantitative","axis":null}}},
{"mark":{"type":"text","text":"T","fontSize":18,"align":"left","baseline":"alphabetic","dx":212,"dy":110},"encoding":{"x":{"datum":0,"type":"quantitative","axis":null},"y":{"datum":0.115,"type":"quantitative","axis":null}}},
{"mark":{"type":"text","text":"> 4 GeV, Fid-","fontSize":24.4,"align":"left","baseline":"alphabetic","dx":231,"dy":101},"encoding":{"x":{"datum":0,"type":"quantitative","axis":null},"y":{"datum":0.115,"type":"quantitative","axis":null}}},
{"mark":{"type":"text","text":"k","fontSize":26,"fontStyle":"italic","align":"left","baseline":"alphabetic","dx":375,"dy":101},"encoding":{"x":{"datum":0,"type":"quantitative","axis":null},"y":{"datum":0.115,"type":"quantitative","axis":null}}},
{"mark":{"type":"text","text":"⊥","fontSize":18,"align":"left","baseline":"alphabetic","dx":390,"dy":109},"encoding":{"x":{"datum":0,"type":"quantitative","axis":null},"y":{"datum":0.115,"type":"quantitative","axis":null}}},
{"mark":{"type":"text","text":"(","fontSize":36,"angle":270,"align":"left","baseline":"alphabetic","dx":91,"dy":-67},"encoding":{"x":{"datum":0,"type":"quantitative","axis":null},"y":{"datum":0,"type":"quantitative","axis":null}}},
{"mark":{"type":"text","text":"N","fontSize":34,"fontStyle":"italic","angle":270,"align":"left","baseline":"alphabetic","dx":115,"dy":-69},"encoding":{"x":{"datum":0,"type":"quantitative","axis":null},"y":{"datum":0,"type":"quantitative","axis":null}}},
{"mark":{"type":"text","text":"excess","fontSize":17,"angle":270,"align":"left","baseline":"alphabetic","dx":141,"dy":-84},"encoding":{"x":{"datum":0,"type":"quantitative","axis":null},"y":{"datum":0,"type":"quantitative","axis":null}}},
{"mark":{"type":"text","text":"pairs","fontSize":22,"angle":270,"align":"left","baseline":"alphabetic","dx":141,"dy":-65},"encoding":{"x":{"datum":0,"type":"quantitative","axis":null},"y":{"datum":0,"type":"quantitative","axis":null}}},
{"mark":{"type":"text","text":"-","fontSize":28,"fontWeight":"bold","angle":270,"align":"left","baseline":"alphabetic","dx":198,"dy":-69},"encoding":{"x":{"datum":0,"type":"quantitative","axis":null},"y":{"datum":0,"type":"quantitative","axis":null}}},
{"mark":{"type":"text","text":"N","fontSize":34,"fontStyle":"italic","angle":270,"align":"left","baseline":"alphabetic","dx":215,"dy":-69},"encoding":{"x":{"datum":0,"type":"quantitative","axis":null},"y":{"datum":0,"type":"quantitative","axis":null}}},
{"mark":{"type":"text","text":"DY","fontSize":22,"angle":270,"align":"left","baseline":"alphabetic","dx":241,"dy":-84},"encoding":{"x":{"datum":0,"type":"quantitative","axis":null},"y":{"datum":0,"type":"quantitative","axis":null}}},
{"mark":{"type":"text","text":"pairs","fontSize":22,"angle":270,"align":"left","baseline":"alphabetic","dx":241,"dy":-65},"encoding":{"x":{"datum":0,"type":"quantitative","axis":null},"y":{"datum":0,"type":"quantitative","axis":null}}},
{"mark":{"type":"text","text":")","fontSize":36,"angle":270,"align":"left","baseline":"alphabetic","dx":287,"dy":-67},"encoding":{"x":{"datum":0,"type":"quantitative","axis":null},"y":{"datum":0,"type":"quantitative","axis":null}}},
{"mark":{"type":"text","text":"/","fontSize":32,"angle":270,"align":"left","baseline":"alphabetic","dx":298,"dy":-68},"encoding":{"x":{"datum":0,"type":"quantitative","axis":null},"y":{"datum":0,"type":"quantitative","axis":null}}},
{"mark":{"type":"text","text":"N","fontSize":34,"fontStyle":"italic","angle":270,"align":"left","baseline":"alphabetic","dx":311,"dy":-69},"encoding":{"x":{"datum":0,"type":"quantitative","axis":null},"y":{"datum":0,"type":"quantitative","axis":null}}},
{"mark":{"type":"text","text":"total","fontSize":22,"angle":270,"align":"left","baseline":"alphabetic","dx":339,"dy":-84},"encoding":{"x":{"datum":0,"type":"quantitative","axis":null},"y":{"datum":0,"type":"quantitative","axis":null}}},
{"mark":{"type":"text","text":"pairs","fontSize":22,"angle":270,"align":"left","baseline":"alphabetic","dx":339,"dy":-65},"encoding":{"x":{"datum":0,"type":"quantitative","axis":null},"y":{"datum":0,"type":"quantitative","axis":null}}}
]
}
],
"config":{
"font":"Liberation Sans",
"view":{"stroke":"#000000","strokeWidth":1.6},
"axis":{"grid":false,"domain":false,"labelFont":"Liberation Sans","labelFontSize":21.7,"labelColor":"#000","tickColor":"#000","tickWidth":1.3,"titleFont":"Liberation Sans","titleColor":"#000","titleFontWeight":"normal","labelFlush":false,"labelOverlap":false},
"text":{"font":"Liberation Sans","color":"#000"}
}
}
